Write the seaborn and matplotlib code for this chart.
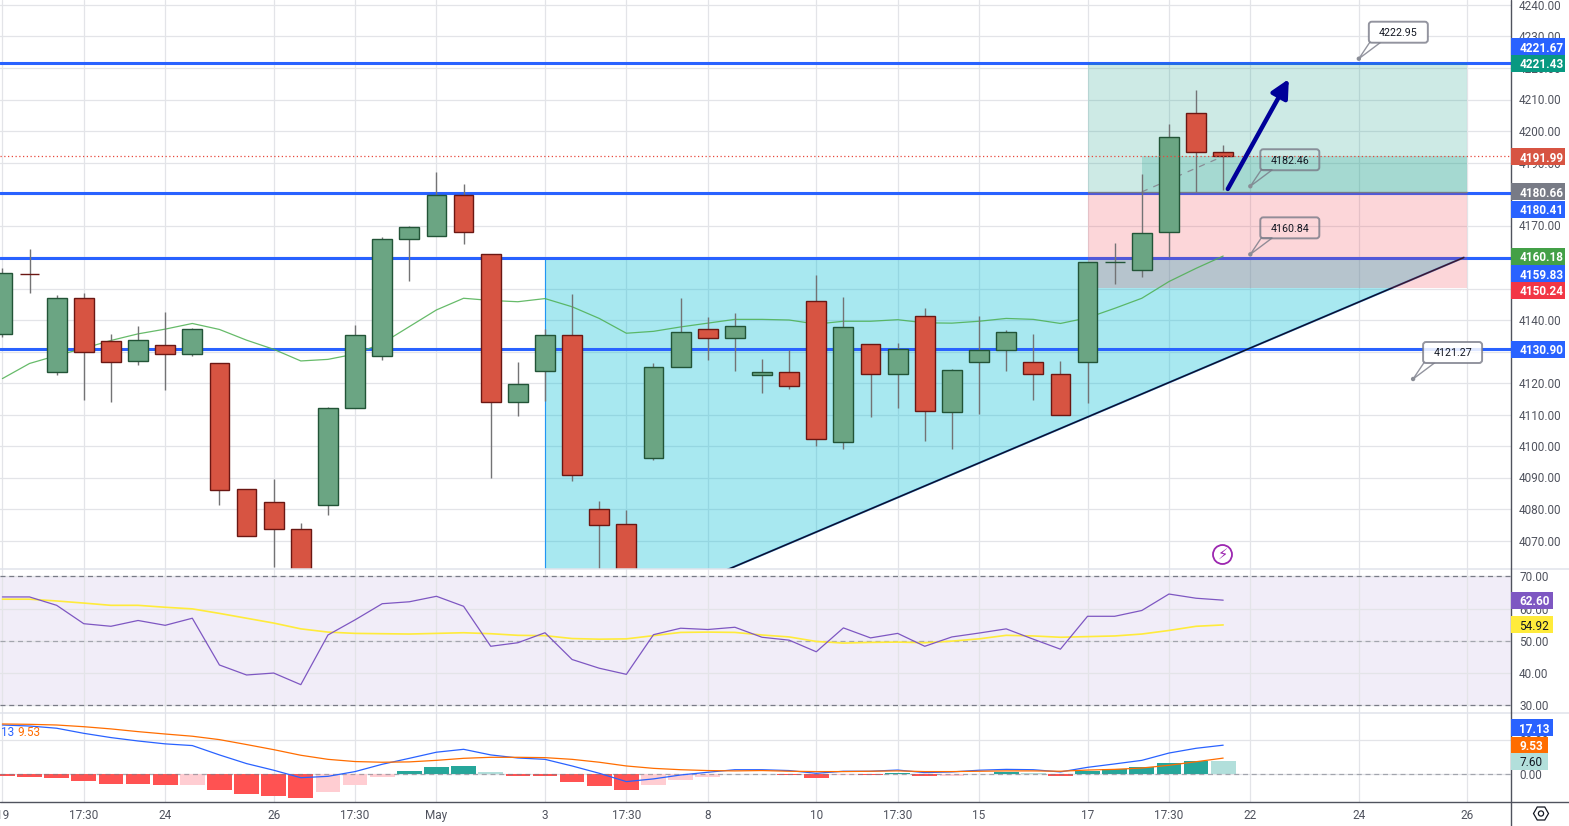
import numpy as np
import matplotlib
matplotlib.use("Agg")
import matplotlib.pyplot as plt
import seaborn as sns
from matplotlib.patches import Rectangle, FancyBboxPatch, Polygon, RegularPolygon, Circle
from matplotlib.lines import Line2D
from matplotlib.transforms import IdentityTransform

# ---------------- data ----------------
opens = [4135.4,4154.7,4123.4,4146.9,4133.2,4126.9,4131.96,4129.1,4126.2,4086.2,4082.1,4073.6,4081.2,4112.0,4128.5,4165.6,
         4166.6,4179.6,4160.9,4113.9,4123.7,4135.1,4079.9,4075.1,4096.1,4125.0,4137.3,4134.4,4122.4,4123.4,4145.9,4101.2,
         4132.3,4123.0,4141.2,4110.7,4126.6,4130.4,4126.6,4123.0,4126.6,4158.3,4155.8,4167.8,4205.6,4193.4]
closes = [4154.8,4154.5,4146.9,4129.7,4126.6,4133.5,4129.1,4137.0,4086.1,4071.3,4073.6,4050.0,4112.0,4135.1,4165.6,4169.4,
          4179.6,4167.8,4113.9,4119.6,4135.1,4090.7,4074.8,4055.0,4125.0,4136.1,4134.4,4138.0,4123.4,4118.9,4102.1,4137.7,
          4123.0,4130.7,4111.0,4124.0,4130.4,4136.1,4123.0,4109.7,4158.3,4158.5,4167.7,4198.0,4193.4,4191.99]
highs = [4156.6,4162.5,4147.9,4148.6,4135.6,4138.1,4142.5,4137.5,4126.2,4086.2,4089.5,4075.6,4112.4,4138.4,4166.2,4170.0,
         4187.0,4183.2,4160.9,4126.7,4137.1,4148.3,4082.5,4079.7,4126.3,4147.0,4140.9,4142.2,4127.6,4130.5,4154.3,4147.3,
         4132.3,4132.7,4143.8,4124.4,4141.3,4136.8,4135.5,4127.0,4158.3,4164.6,4186.4,4202.2,4213.0,4195.6]
lows = [4134.7,4148.7,4122.6,4114.7,4114.1,4125.8,4117.9,4128.7,4081.4,4071.3,4061.7,4045.0,4078.2,4112.0,4127.4,4152.5,
        4166.6,4164.2,4090.0,4109.6,4114.4,4089.0,4061.0,4050.0,4095.6,4125.0,4127.4,4123.9,4116.9,4118.2,4100.1,4099.2,
        4109.3,4112.2,4101.7,4099.2,4110.3,4123.9,4114.7,4109.7,4113.5,4151.5,4153.8,4160.1,4180.7,4181.3]
price_ma = [4121.4,4126.2,4128.7,4131.0,4133.5,4135.6,4137.1,4138.9,4137.0,4133.6,4130.7,4127.0,4127.5,4129.2,4132.6,4137.9,
            4143.2,4146.9,4146.2,4145.8,4146.8,4144.2,4140.5,4135.8,4136.4,4137.8,4139.0,4140.2,4140.2,4140.0,4138.7,4139.6,
            4139.6,4140.1,4139.1,4139.0,4139.6,4140.5,4140.2,4138.9,4140.7,4143.7,4146.9,4152.2,4156.4,4160.3]
rsi = [63.6,63.6,61.0,55.3,54.5,56.3,54.8,57.0,42.5,39.4,40.0,36.4,51.8,56.5,61.5,62.1,63.8,60.7,48.3,49.4,52.5,44.2,41.5,
       39.6,51.9,53.9,53.5,54.2,51.1,50.2,46.6,54.0,50.9,52.3,48.3,51.2,52.4,53.7,50.5,47.4,57.6,57.6,59.4,64.5,63.2,62.6]
rsi_ma = [62.9,62.9,62.35,61.7,61.0,61.0,60.4,59.9,58.5,57.0,55.5,53.7,52.7,52.3,52.2,52.1,52.3,52.5,52.2,51.7,51.6,50.7,50.5,
          50.6,51.6,52.6,52.7,52.6,51.8,51.2,49.8,49.3,49.5,49.6,49.4,49.9,50.6,51.7,51.5,51.1,51.3,51.5,52.1,53.2,54.5,54.92]
macd = [29.0,28.4,27.1,24.1,21.6,19.6,17.9,16.9,11.4,6.3,2.4,-2.0,-1.2,1.6,5.9,9.4,13.0,14.7,11.4,9.6,8.8,4.9,0.6,-4.3,
        -2.7,-0.4,1.2,2.7,2.7,2.2,0.6,1.8,1.8,2.5,1.0,1.4,2.4,2.9,2.7,1.4,4.1,6.1,8.2,12.5,15.3,17.13]
signal = [29.6,29.4,29.0,28.0,26.7,25.1,23.7,22.4,20.4,17.5,14.5,11.2,8.8,7.5,7.1,7.3,8.2,9.4,10.0,10.0,9.8,8.8,7.1,4.9,
          3.5,2.7,2.2,2.0,2.2,1.8,1.6,1.6,1.8,2.0,1.6,1.6,1.8,2.0,2.0,1.8,2.5,2.9,3.7,5.3,7.4,9.53]
hist = [-0.8,-1.6,-2.2,-3.9,-5.7,-5.7,-6.3,-6.2,-9.2,-11.6,-12.5,-13.9,-10.4,-6.3,-1.6,2.0,4.3,4.9,1.4,-1.0,-1.0,-4.5,-6.9,-9.2,
        -6.3,-3.3,-1.6,0.2,0.1,-0.4,-2.2,-0.3,-0.4,0.8,-1.0,-0.8,0.3,1.4,0.8,-1.0,2.0,3.1,4.3,6.7,7.8,7.6]

time_ticks = [0,3,6,10,13,16,20,23,26,30,33,36,40,43,46,50,54]
time_labels = ['19','17:30','24','26','17:30','May','3','17:30','8','10','17:30','15','17','17:30','22','24','26']
price_ticks = list(range(4070,4250,10))
rsi_ticks = [30,40,50,60,70]
macd_ticks = [0,20]

levels = [4221.67,4180.41,4159.83,4130.90]
last_price = 4191.99
tp_price, entry_price, sl_price = 4221.43,4180.66,4150.24
position_start, position_end, position_now = 40,54,42
tri_x = [20,53.87,20]
tri_y = [4159.83,4159.83,4036.2]
notes = [('4222.95',50,4222.95),('4182.46',46,4182.46),('4160.84',46,4160.84),('4121.27',52,4121.27)]
arrow_from = (45.17,4181.6)
arrow_to = (47.42,4216.5)

idx = np.arange(len(opens))

# ---------------- theme ----------------
sns.set_theme(style='white')
plt.rcParams['font.family'] = ['Roboto','DejaVu Sans']
W,H = 1569,826
GRID='#e3e4e8'; TXT='#50535e'; DARK='#50535e'
fig = plt.figure(figsize=(W/100,H/100),dpi=100,facecolor='white')
PR = 1511.3
def rect(top,bot): return [0,1-bot/H,PR/W,(bot-top)/H]
ax1 = fig.add_axes(rect(0,568.5))
ax2 = fig.add_axes(rect(568.5,713.3),sharex=ax1)
ax3 = fig.add_axes(rect(713.3,802.3),sharex=ax1)
ax1.set_xlim(-0.0885,55.62)
ax1.set_ylim(4210-(568.5-99.5)/3.15,4210+99.5/3.15)
ax2.set_ylim(70-(713.3-576.3)/3.225,70+(576.3-568.5)/3.225)
ax3.set_ylim(-(802.3-774.3)/1.7,(774.3-713.3)/1.7)

for ax,ticks,fmt in ((ax1,price_ticks,'{:.2f}'),(ax2,rsi_ticks,'{:.2f}'),(ax3,macd_ticks,'{:.2f}')):
    ax.set_facecolor('white')
    ax.yaxis.tick_right()
    ax.set_yticks(ticks)
    ax.set_yticklabels([fmt.format(t) for t in ticks])
    ax.set_xticks(time_ticks)
    ax.grid(True,color=GRID,lw=0.9,zorder=0.5)
    ax.set_axisbelow(True)
    ax.tick_params(axis='y',length=0,pad=5.6,labelsize=8.5,labelcolor=TXT)
    ax.tick_params(axis='x',length=0,labelbottom=False)
    for s in ax.spines.values():
        s.set_visible(False)
ax3.set_xticklabels(time_labels)
ax3.tick_params(axis='x',labelbottom=True,pad=5,labelsize=8.5,labelcolor=TXT)

# ---------------- main panel ----------------
ax1.fill(tri_x,tri_y,facecolor='#00bcd4',alpha=0.34,edgecolor='none',zorder=1)
ax1.plot([tri_x[0],tri_x[0]],[tri_y[0],tri_y[2]],color='#2196f3',lw=0.8,zorder=1.2)
for lv in levels:
    ax1.axhline(lv,color='#2962ff',lw=2.2,zorder=2)
ax1.plot(tri_x[1:],tri_y[1:],color='#2196f3',lw=1.6,alpha=0.6,zorder=2.1)
ax1.plot(tri_x[1:],tri_y[1:],color='#0b1030',lw=1.15,zorder=2.2)
ax1.fill_between([position_start,position_end],entry_price,tp_price,color='#089981',alpha=0.2,lw=0,zorder=3)
ax1.fill_between([position_start,position_end],sl_price,entry_price,color='#f23645',alpha=0.2,lw=0,zorder=3)
ax1.fill_between([position_now,position_end],entry_price,last_price,color='#089981',alpha=0.2,lw=0,zorder=3)
ax1.plot([position_start,position_end],[entry_price,entry_price],color='#787b86',lw=0.9,zorder=3.1)
ax1.plot([position_now,45],[entry_price,last_price],color='#8a8d96',lw=0.9,ls=(0,(5,5)),zorder=3.2)
sns.lineplot(x=idx,y=price_ma,ax=ax1,color='#4caf50',lw=0.9,alpha=0.85,zorder=3.5,errorbar=None)

opens_a,closes_a = np.array(opens),np.array(closes)
up = closes_a>=opens_a
ax1.vlines(idx,lows,highs,color='#737375',lw=1.0,zorder=4)
ax1.bar(idx,closes_a-opens_a,bottom=opens_a,width=0.73,
        color=['#6ba583' if u else '#d75442' for u in up],
        edgecolor=['#225437' if u else '#6b1713' for u in up],lw=1.0,zorder=4.1)
ax1.axhline(last_price,color='#e8483c',lw=0.9,ls=(0,(1,2)),zorder=5)
ax1.annotate('',xy=arrow_to,xytext=arrow_from,zorder=6,
             arrowprops=dict(arrowstyle='-|>,head_length=0.9,head_width=0.45',color='#000099',lw=3.2,
                             shrinkA=0,shrinkB=0,capstyle='round'))

# ---------------- RSI ----------------
ax2.axhspan(30,70,color='#7e57c2',alpha=0.1,lw=0,zorder=0.2)
for v,a in ((30,1.0),(50,0.6),(70,1.0)):
    ax2.axhline(v,color='#787b86',lw=0.9,ls=(0,(4,3)),alpha=a,zorder=1)
sns.lineplot(x=idx,y=rsi_ma,ax=ax2,color='#ffeb3b',lw=1.2,zorder=3,errorbar=None)
sns.lineplot(x=idx,y=rsi,ax=ax2,color='#7e57c2',lw=0.9,zorder=3.1,errorbar=None)

# ---------------- MACD ----------------
h = np.array(hist)
prev = np.r_[h[0],h[:-1]]
cols = []
for v,p in zip(h,prev):
    if v>=0:
        cols.append('#26a69a' if v>p else '#b2dfdb')
    else:
        cols.append('#ff5252' if v<=p else '#ffcdd2')
ax3.bar(idx,h,width=0.91,color=cols,lw=0,zorder=2)
ax3.axhline(0,color='#787b86',lw=0.9,ls=(0,(4,3)),alpha=0.6,zorder=2.5)
sns.lineplot(x=idx,y=macd,ax=ax3,color='#2962ff',lw=0.9,zorder=3,errorbar=None)
sns.lineplot(x=idx,y=signal,ax=ax3,color='#ff6d00',lw=0.9,zorder=3.1,errorbar=None)
for ax in (ax1,ax2,ax3):
    ax.set_xlabel('');ax.set_ylabel('')
ax1.set_xlim(-0.0885,55.62)

# ---------------- overlay helpers (pixel placement) ----------------
ID = IdentityTransform()
def py(ax,val):
    return H-ax.transData.transform((0,val))[1]
def pill(ax,val,dy,text,fc,tc,w):
    yc = py(ax,val)+dy
    fig.add_artist(Rectangle((PR,H-yc-8.5),w,17,transform=ID,fc=fc,ec='none',zorder=4))
    fig.text(PR+8,H-yc,text,transform=ID,color=tc,fontsize=8.5,va='center_baseline',ha='left',zorder=5,fontweight='bold' if tc=='white' else 'normal')

BL='#2962ff'
for args in [(4221.67,-16,'4221.67',BL,'white',54),(4221.43,0,'4221.43','#089981','white',54),
             (4191.99,0.5,'4191.99','#d75442','white',54),(4180.66,0,'4180.66','#787b86','white',54),
             (4180.41,16.3,'4180.41',BL,'white',54),(4160.18,0,'4160.18','#43a047','white',54),
             (4159.83,16,'4159.83',BL,'white',54),(4150.24,2.6,'4150.24','#f23645','white',54),
             (4130.90,0.5,'4130.90',BL,'white',54)]:
    pill(ax1,*args)
pill(ax2,62.60,0,'62.60','#7e57c2','white',42)
pill(ax2,54.92,0,'54.92','#ffeb3b','#131722',42)
pill(ax3,17.13,-17.5,'17.13',BL,'white',42)
pill(ax3,9.53,-13,'9.53','#ff6d00','white',37)
pill(ax3,7.60,0,'7.60','#b2dfdb','#131722',37)

def note(text,i,p,fc):
    x,y = ax1.transData.transform((i,p))
    ec=(0.47,0.48,0.53,0.8)
    fig.add_artist(Polygon([(x,y),(x+11,y+16.5),(x+22,y+16.5)],closed=True,transform=ID,fc=fc,ec=ec,lw=1.0,zorder=3))
    fig.add_artist(FancyBboxPatch((x+12,y+18),55,17,boxstyle='round,pad=2,rounding_size=3',transform=ID,fc=fc,ec=ec,lw=1.4,zorder=3))
    fig.add_artist(Circle((x,y),2.2,transform=ID,fc='#8a8d96',ec='none',zorder=3.1))
    fig.text(x+39.5,y+26.5,text,transform=ID,ha='center',va='center_baseline',fontsize=7.7,color='#131722',zorder=3.2)
note(*notes[0],(1,1,1,1))
note(*notes[1],(1,1,1,0))
note(*notes[2],(1,1,1,0))
note(*notes[3],(1,1,1,0.85))

# legend values of MACD, clipped by the left edge
fig.text(1,H-731,'13',transform=ID,color='#2962ff',fontsize=8.5,va='center_baseline',zorder=5)
fig.text(17,H-731,'9.53',transform=ID,color='#ff6d00',fontsize=8.5,va='center_baseline',zorder=5)

# frame lines
for y in (568.5,713.3):
    fig.add_artist(Line2D([0,W],[H-y,H-y],transform=ID,color='#e0e3eb',lw=1.1,zorder=2))
fig.add_artist(Line2D([0,W],[H-802.3,H-802.3],transform=ID,color=DARK,lw=1.0,zorder=2))
fig.add_artist(Line2D([PR,PR],[0,H],transform=ID,color=DARK,lw=1.0,zorder=2))

# icons
fig.add_artist(Circle((1222.5,H-554.5),9.5,transform=ID,fc='white',ec='#9c27b0',lw=1.3,zorder=3))
fig.text(1222.5,H-554.5,'\u26a1',transform=ID,family='DejaVu Sans',ha='center',va='center',fontsize=10.5,color='#9c27b0',zorder=3.1)
fig.add_artist(RegularPolygon((1541,H-813.5),6,radius=7.5,orientation=np.pi/2,transform=ID,fill=False,ec='#131722',lw=0.9,zorder=3))
fig.add_artist(Circle((1541,H-813.5),2.6,transform=ID,fill=False,ec='#131722',lw=0.9,zorder=3))

fig.savefig('out.png',dpi=100,facecolor='white')
